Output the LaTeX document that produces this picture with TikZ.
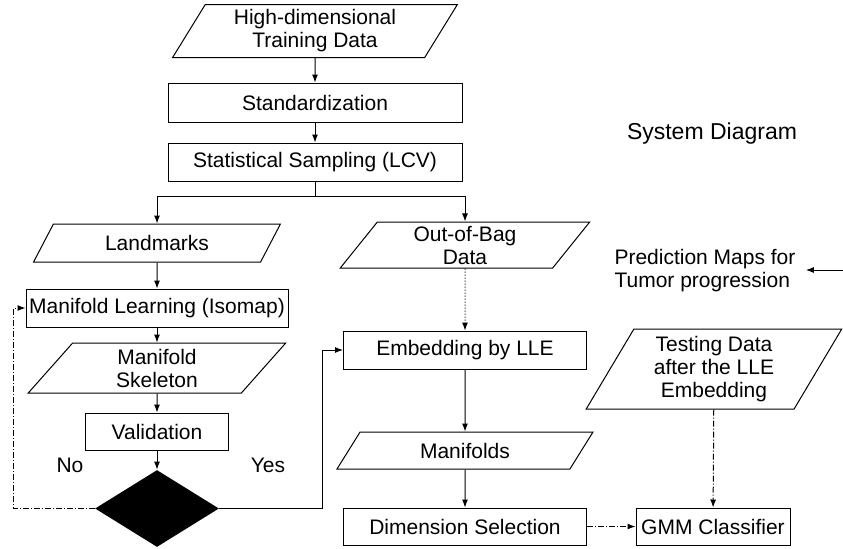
\documentclass[tikz,border=0pt]{standalone}
\usepackage{fontspec}
\setmainfont{Liberation Sans}
\usepackage{xcolor}
\usepackage{tikz}
\usetikzlibrary{positioning, arrows.meta, shapes.geometric}

\begin{document}
\begin{tikzpicture}[x=0.5pt, y=-0.5pt,
    every node/.style={font=\fontsize{10.5}{11.5}\selectfont},
    procbox/.style={draw, line width=0.5pt, inner sep=1pt, align=center},
    databox/.style={draw, line width=0.5pt, inner sep=1pt, align=center,
      trapezium, trapezium left angle=62, trapezium right angle=118,
      trapezium stretches=true},
    flow/.style={line width=0.5pt, -{Latex[length=4pt, width=3pt]}}]
    \useasboundingbox (0,0) rectangle (843,548);

    \node[databox, minimum width=142.5pt, minimum height=26.5pt] (hdata) at (315,31)
      {High-dimensional\\Training Data};
    \node[procbox, minimum width=147pt, minimum height=19.5pt] (stand) at (315,102.5)
      {Standardization};
    \node[procbox, minimum width=147pt, minimum height=19pt] (sampling) at (315,162)
      {Statistical Sampling (LCV)};
    \coordinate (split) at (315,196);

    \node[databox, minimum width=124pt, minimum height=19pt] (land) at (157,243)
      {Landmarks};
    \node[procbox, minimum width=131pt, minimum height=19pt] (learn) at (157,308)
      {Manifold Learning (Isomap)};
    \node[databox, minimum width=129.5pt, minimum height=25pt] (skel) at (157,368)
      {Manifold\\Skeleton};
    \node[procbox, minimum width=71.5pt, minimum height=18.5pt] (valid) at (157,431.5)
      {Validation};
    \node[diamond, fill=black, inner sep=0pt, minimum width=62pt,
          minimum height=38.5pt] (dec) at (157,508.5) {};
    \node (no) at (70,465) {No};
    \node (yes) at (268,465) {Yes};

    \node[databox, minimum width=125.5pt, minimum height=23pt] (oob) at (465,245)
      {Out-of-Bag\\Data};
    \node[procbox, minimum width=121.5pt, minimum height=19pt] (embed) at (465,350)
      {Embedding by LLE};
    \node[databox, minimum width=128.5pt, minimum height=18.5pt] (manif) at (465,450.5)
      {Manifolds};
    \node[procbox, minimum width=121.5pt, minimum height=18.5pt] (dimsel) at (465,526.5)
      {Dimension Selection};

    \node[databox, minimum width=129pt, minimum height=40pt] (test) at (714,369)
      {Testing Data\\after the LLE\\Embedding};
    \node[procbox, minimum width=77pt, minimum height=18.5pt] (gmm) at (713,526.5)
      {GMM Classifier};

    \node[font=\fontsize{11.5}{13}\selectfont] (title) at (712,134) {System Diagram};
    \node[align=left, inner sep=5pt] (pred) at (705,271)
      {Prediction Maps for\\Tumor progression};
    \coordinate (predin) at (843,270);

    \draw[flow] (hdata) -- (stand);
    \draw[flow] (stand) -- (sampling);
    \draw[line width=0.5pt] (sampling.south) -- (split);
    \draw[flow] (split) -| (land.north);
    \draw[flow] (split) -| (oob.north);
    \draw[flow] (land) -- (learn);
    \draw[flow] (learn) -- (skel);
    \draw[flow] (skel) -- (valid);
    \draw[flow] (valid) -- (dec);
    \draw[flow, densely dashdotted] (dec.west) -- ++(-81,0) |- (learn.west);
    \draw[flow] (dec.east) -- ++(103,0) |- (embed.west);
    \draw[flow, densely dotted] (oob) -- (embed);
    \draw[flow] (embed) -- (manif);
    \draw[flow] (manif) -- (dimsel);
    \draw[flow, densely dashdotted] (dimsel) -- (gmm);
    \draw[flow, densely dashdotted] (test) -- (gmm);
    \draw[flow] (predin) -- (pred.east |- predin);
  \end{tikzpicture}
\end{document}
